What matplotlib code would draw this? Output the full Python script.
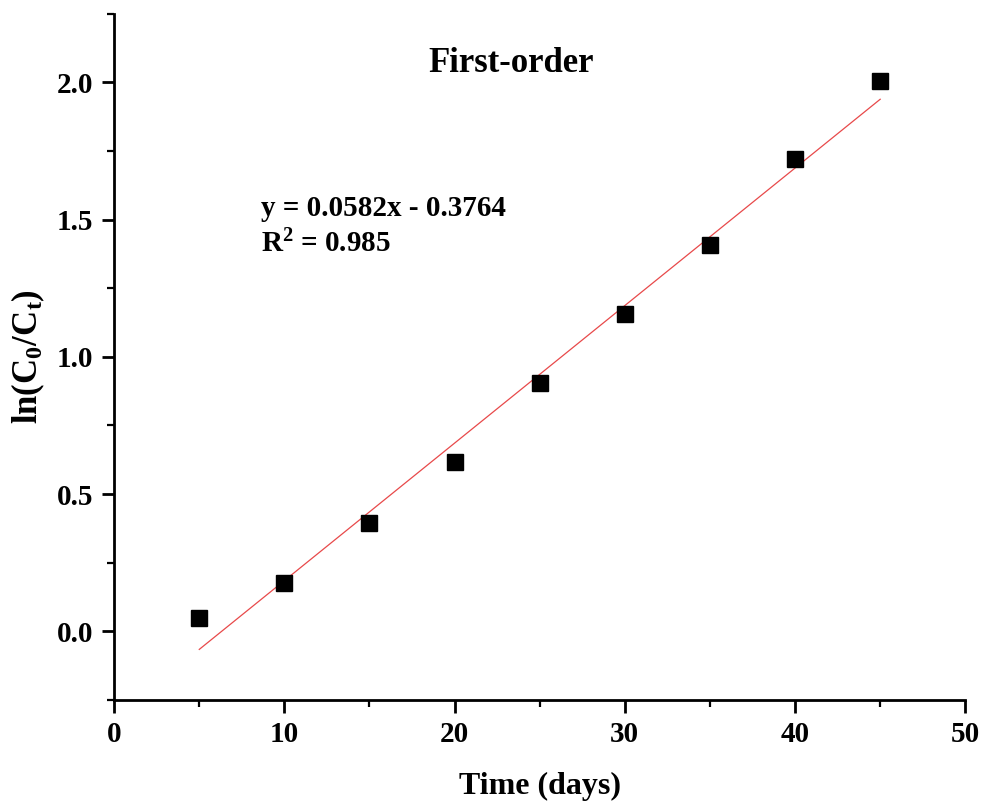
import numpy as np
import matplotlib
matplotlib.use('Agg')
import matplotlib.pyplot as plt
from matplotlib.ticker import MultipleLocator

#-----------------Data-------------

time_days = [5, 10, 15, 20, 25, 30, 35, 40, 45]
ln_ratio = [0.047, 0.175, 0.394, 0.617, 0.905, 1.157, 1.409, 1.719, 2.004]

title_text = 'First-order'
eq_text = 'y = 0.0582x - 0.3764'
r2_text = 'R$^2$ = 0.985'

#-----------------Style-------------

plt.rcParams['font.family'] = 'Liberation Serif'
plt.rcParams['font.weight'] = 'bold'
plt.rcParams['mathtext.fontset'] = 'custom'
plt.rcParams['mathtext.rm'] = 'Liberation Serif:bold'
plt.rcParams['mathtext.it'] = 'Liberation Serif:bold'
plt.rcParams['mathtext.bf'] = 'Liberation Serif:bold'

fig = plt.figure(figsize=(9.84, 8.06), dpi=100)
ax = fig.add_axes([0.116, 0.1315, 0.865, 0.8515])

#-----------------Plot-------------

x = np.array(time_days)
y = np.array(ln_ratio)
slope, intercept = np.polyfit(x, y, 1)
ax.plot(x, slope * x + intercept, color='#e8494a', linewidth=0.9)
ax.plot(x, y, 's', color='black', markersize=11.5)

ax.set_xlim(0, 50)
ax.set_ylim(-0.25, 2.25)
ax.xaxis.set_major_locator(MultipleLocator(10))
ax.xaxis.set_minor_locator(MultipleLocator(5))
ax.yaxis.set_major_locator(MultipleLocator(0.5))
ax.yaxis.set_minor_locator(MultipleLocator(0.25))
ax.yaxis.set_major_formatter(matplotlib.ticker.FormatStrFormatter('%.1f'))

for side in ['top', 'right']:
    ax.spines[side].set_visible(False)
for side in ['left', 'bottom']:
    ax.spines[side].set_linewidth(2)

ax.tick_params(which='major', length=9, width=2, labelsize=21, pad=6)
ax.tick_params(which='minor', length=5, width=1.6)

ax.set_xlabel('Time (days)', fontsize=23, fontweight='bold', labelpad=17)
ax.set_ylabel('ln(C$_0$/C$_t$)', fontsize=25, fontweight='bold', labelpad=7)

ax.text(23.3, 2.07, title_text, fontsize=25, fontweight='bold', ha='center', va='center')
ax.text(8.6, 1.54, eq_text, fontsize=21, fontweight='bold', ha='left', va='center')
ax.text(8.6, 1.41, r2_text, fontsize=21, fontweight='bold', ha='left', va='center')

fig.savefig('out.png', dpi=100)
